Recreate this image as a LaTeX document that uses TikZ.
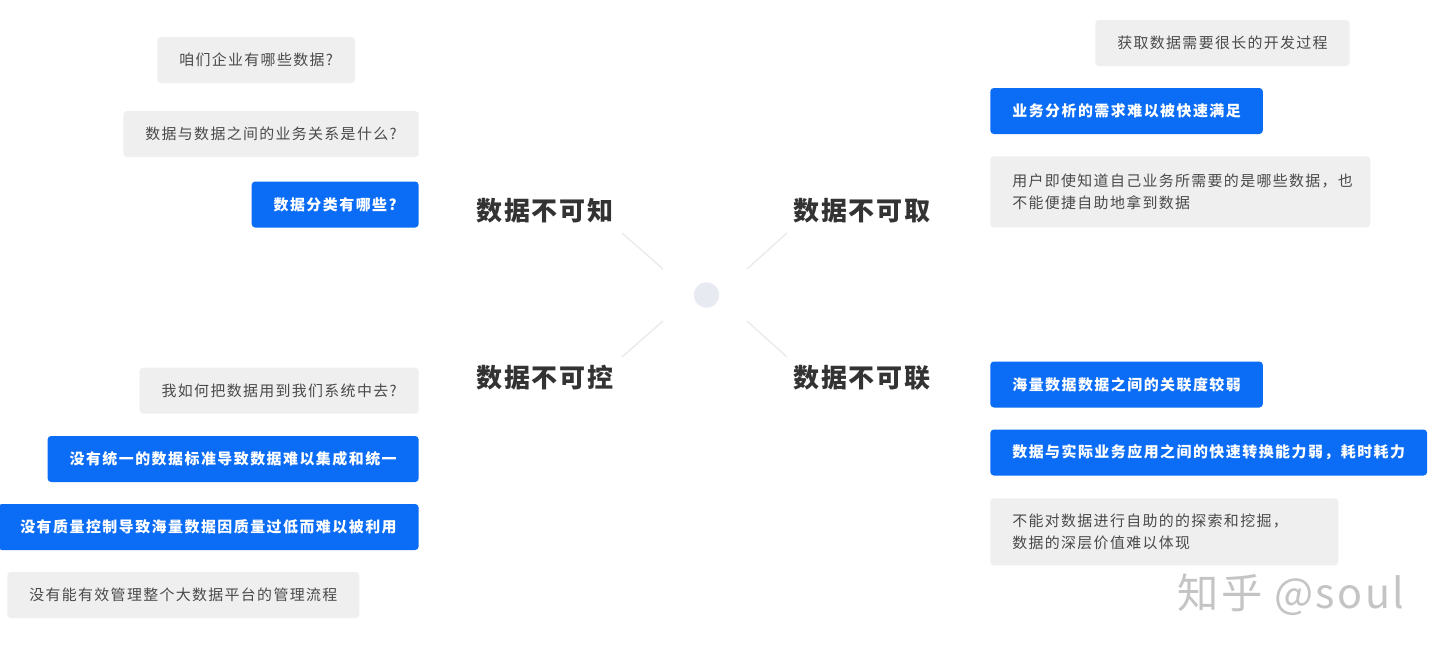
\documentclass[tikz,border=0pt]{standalone}
\usepackage{fontspec}
\usepackage{tikz}
\usetikzlibrary{positioning}
\newfontfamily\cjk{Noto Sans CJK SC}[LetterSpace=9]
\newfontfamily\cjkblue{Noto Sans CJK SC}[LetterSpace=10]
\newfontfamily\cjkhead{Noto Sans CJK SC}[LetterSpace=6]
\definecolor{boxgray}{HTML}{EFEFEF}
\definecolor{boxblue}{HTML}{0B6CF5}
\definecolor{txtgray}{HTML}{4A4A4A}
\definecolor{headgray}{HTML}{333333}
\definecolor{spokegray}{HTML}{EBEBEB}
\definecolor{hubfill}{HTML}{E8EAF2}
\definecolor{markgray}{HTML}{C4C4C4}

\begin{document}
\begin{tikzpicture}[x=0.02cm,y=-0.02cm,
    every node/.style={font=\cjk\fontsize{8.5pt}{12.5pt}\selectfont},
    card/.style={rectangle,rounded corners=2pt,inner xsep=0.44cm,inner ysep=0pt,minimum height=0.92cm},
    graycard/.style={card,fill=boxgray,text=txtgray},
    bluecard/.style={card,fill=boxblue,text=white,font=\cjkblue\bfseries\fontsize{8.5pt}{12.5pt}\selectfont},
    twoline/.style={text width=#1,align=left},
    heading/.style={text=headgray,font=\cjkhead\bfseries\fontsize{14.8pt}{16pt}\selectfont},
    spoke/.style={draw=spokegray,line width=0.8pt},
    watermark/.style={text=markgray,font=\cjkhead\fontsize{23.5pt}{26pt}\selectfont}]
    \path[use as bounding box,fill=white] (0,0) rectangle (1440,654);

    \node[circle,fill=hubfill,minimum size=0.51cm,inner sep=0pt] (hub) at (706.5,295) {};

    \node[heading] (know) at (545,211) {数据不可知};
    \node[heading] (fetch) at (862,211) {数据不可取};
    \node[heading] (ctrl) at (545,378) {数据不可控};
    \node[heading] (link) at (862,378) {数据不可联};

    \coordinate (know-in) at (663,269);  \coordinate (know-out) at (622,233);
    \coordinate (fetch-in) at (747,269); \coordinate (fetch-out) at (787,233);
    \coordinate (ctrl-in) at (663,321);  \coordinate (ctrl-out) at (622,357);
    \coordinate (link-in) at (747,321);  \coordinate (link-out) at (787,357);
    \draw[spoke] (know-in) -- (know-out);
    \draw[spoke] (fetch-in) -- (fetch-out);
    \draw[spoke] (ctrl-in) -- (ctrl-out);
    \draw[spoke] (link-in) -- (link-out);

    \node[graycard,anchor=west] (know1) at (157,60) {咱们企业有哪些数据?};
    \node[graycard,anchor=east] (know2) at (419,134) {数据与数据之间的业务关系是什么?};
    \node[bluecard,anchor=east] (know3) at (419,204.5) {数据分类有哪些?};

    \node[graycard,anchor=west] (fetch1) at (1095,43) {获取数据需要很长的开发过程};
    \node[bluecard,anchor=west] (fetch2) at (990,111) {业务分析的需求难以被快速满足};
    \node[graycard,twoline=6.72cm,minimum height=1.42cm,anchor=north west] (fetch3) at (990,156)
        {用户即使知道自己业务所需要的是哪些数据，也\\不能便捷自助地拿到数据};

    \node[graycard,anchor=east] (ctrl1) at (419,390.5) {我如何把数据用到我们系统中去?};
    \node[bluecard,anchor=east] (ctrl2) at (419,459) {没有统一的数据标准导致数据难以集成和统一};
    \node[bluecard,anchor=east] (ctrl3) at (419,527) {没有质量控制导致海量数据因质量过低而难以被利用};
    \node[graycard,anchor=west] (ctrl4) at (7,595) {没有能有效管理整个大数据平台的管理流程};

    \node[bluecard,anchor=west] (link1) at (990,384.5) {海量数据数据之间的关联度较弱};
    \node[bluecard,anchor=west] (link2) at (990,452.5) {数据与实际业务应用之间的快速转换能力弱，耗时耗力};
    \node[graycard,twoline=6.08cm,minimum height=1.34cm,anchor=north west] (link3) at (990,498)
        {不能对数据进行自助的的探索和挖掘，\\数据的深层价值难以体现};

    \node[watermark] (zhihu) at (1291,595) {知乎 @soul};
\end{tikzpicture}
\end{document}
